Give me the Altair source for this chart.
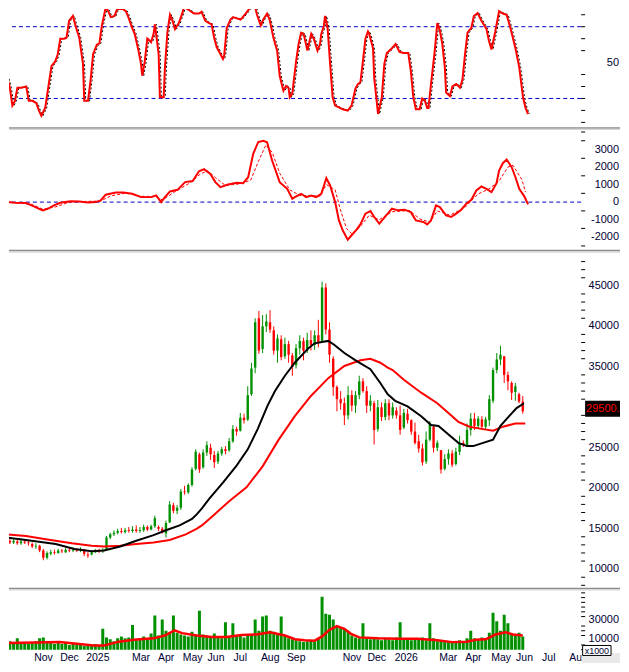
import altair as alt
import pandas as pd

# ---------------- style constants ----------------
FONT = "Liberation Sans"
LABEL_COLOR = "#000033"
GREEN = "#009000"
RED = "#ff0000"
BLUE = "#0000cc"

W = 574
H1, H2, H3, H4 = 118, 119, 335, 61
RIGHT = 613          # right edge of the drawing, relative to the plot origin
X_DOMAIN = [6.32, 460.08]
Y1_DOMAIN = [-3.6, 94.75]
Y2_DOMAIN = [-2690, 4075]
Y3_DOMAIN = [7771, 49027]
Y4_DOMAIN = [-2400, 61800]

# ---------------- x axis (trading-day index) ----------------
month_ticks = [21, 42, 63, 100, 121, 141, 161, 182, 204, 225, 246, 270, 290, 312, 348, 369, 390, 410, 431, 453]
month_labels = ["Nov", "Dec", "2025", "Mar", "Apr", "May", "Jun", "Jul", "Aug", "Sep", "",
                "Nov", "Dec", "2026", "Mar", "Apr", "May", "Jun", "Jul", "Aug"]

# ---------------- price candles (one candle = 3 sessions) ----------------
candle_t = list(range(0, 420, 3))
opens = [13700, 13500, 13300, 13400, 13200, 13400, 13300, 13100, 12800, 12900,
         12300, 11400, 11900, 12100, 12000, 12300, 12100, 12400, 12300, 12400,
         12300, 12400, 11800, 11800, 12100, 12300, 12200, 12500, 13900, 14300,
         14500, 14700, 14600, 14800, 14700, 14900, 14700, 14800, 15200, 14900,
         15300, 15200, 15000, 14400, 15800, 17900, 17200, 17600, 19600, 19500,
         20400, 22400, 24200, 22600, 24400, 25000, 24100, 23300, 24300, 24800,
         24700, 25800, 27300, 27100, 28700, 28500, 31600, 34900, 41000, 37200,
         40000, 40500, 39500, 37000, 38400, 36300, 37800, 36400, 35200, 37300,
         38200, 37000, 38300, 37700, 38900, 38200, 44800, 39600, 36000, 32500,
         31000, 30500, 29000, 31500, 30200, 31500, 33200, 32000, 30200, 30500,
         27300, 30000, 28800, 30500, 29000, 29600, 29000, 27500, 29200, 28400,
         27000, 25800, 24900, 23300, 26000, 27600, 25000, 24700, 22400, 23600,
         24300, 23000, 24500, 25600, 25300, 27200, 28600, 27700, 28500, 27600,
         28400, 30800, 34600, 35900, 36300, 34000, 33000, 31900, 31600, 30700]
highs = [13900, 13700, 13700, 13600, 13700, 13600, 13500, 13300, 13200, 13000,
         12500, 12200, 12400, 12400, 12500, 12500, 12600, 12600, 12700, 12600,
         12700, 12500, 12100, 12300, 12500, 12500, 12600, 14100, 14500, 14800,
         15000, 15100, 15100, 15200, 15300, 15400, 15200, 15500, 15400, 15500,
         16600, 15400, 15200, 16000, 18400, 18200, 17900, 19900, 20300, 20600,
         22600, 24800, 24400, 24800, 25800, 25500, 24600, 24600, 25100, 25200,
         26200, 27800, 27600, 29300, 29200, 32600, 35500, 41000, 41900, 41400,
         41500, 42000, 40000, 39000, 38900, 38600, 38200, 36700, 37800, 38900,
         38600, 39200, 39500, 39500, 40800, 45500, 45300, 40500, 36300, 32700,
         32000, 31200, 32600, 32100, 32000, 33900, 33600, 32600, 31500, 30800,
         30900, 30600, 31000, 31000, 30600, 30000, 30200, 29800, 29800, 28500,
         28100, 26600, 25500, 27000, 28300, 27700, 25900, 24700, 24200, 24800,
         24700, 25000, 26500, 25900, 28000, 29300, 29300, 28900, 28900, 28800,
         31500, 34900, 36700, 37600, 36300, 34400, 33200, 33000, 31800, 31400]
lows = [13300, 13100, 13100, 13000, 13000, 13100, 12900, 12600, 12500, 12100,
        11100, 11200, 11700, 11800, 11900, 12000, 12000, 12100, 12100, 12100,
        12100, 11600, 11400, 11700, 12000, 12000, 12000, 12400, 13700, 14100,
        14300, 14400, 14400, 14500, 14500, 14500, 14500, 14600, 14700, 14800,
        15100, 14700, 14400, 13900, 15700, 16900, 16800, 17300, 19200, 19300,
        20200, 22200, 21900, 22400, 24000, 23500, 22500, 23000, 24000, 24200,
        24500, 25600, 26500, 27000, 28000, 28300, 31400, 34200, 36600, 36700,
        39300, 39200, 36500, 35500, 35800, 36000, 35500, 33900, 34800, 36500,
        35800, 36700, 37000, 37100, 37400, 38000, 39000, 35500, 31400, 29500,
        29700, 27800, 28500, 29500, 29300, 31000, 31800, 29300, 29500, 25400,
        27000, 28300, 28400, 28400, 28600, 28600, 26600, 27300, 28000, 26600,
        25400, 24400, 22800, 23000, 25800, 24400, 24600, 21800, 22200, 22900,
        22600, 22800, 24100, 25100, 25100, 26500, 27200, 27400, 27200, 27200,
        27700, 30500, 34200, 35200, 33000, 32100, 30900, 30800, 30500, 29200]
closes = [13500, 13300, 13500, 13200, 13400, 13300, 13200, 12800, 12900, 12300,
          11400, 12000, 12100, 12000, 12300, 12200, 12400, 12300, 12400, 12300,
          12500, 11900, 11700, 12100, 12300, 12200, 12400, 13900, 14300, 14500,
          14700, 14600, 14800, 14700, 14900, 14700, 14800, 15200, 14900, 15300,
          16300, 15000, 14600, 15700, 18000, 17200, 17600, 19600, 19500, 20400,
          22300, 24500, 22300, 24400, 25300, 24200, 23200, 24300, 24800, 24600,
          25800, 27300, 27000, 28700, 28400, 31500, 34800, 40500, 37000, 40000,
          40600, 39600, 37000, 38500, 36200, 37800, 36500, 35000, 37300, 38200,
          37000, 38300, 37700, 38900, 38000, 44800, 39600, 36500, 32500, 31000,
          30500, 29000, 31500, 30200, 31500, 33200, 32000, 30200, 30800, 27200,
          30000, 28800, 30500, 29000, 30000, 29000, 27200, 29300, 28400, 27000,
          25600, 24900, 23200, 26000, 28000, 25000, 25600, 22300, 23600, 24300,
          22900, 24500, 25600, 25400, 27200, 28600, 27700, 28600, 27600, 28500,
          31000, 34600, 35900, 36500, 34000, 33200, 31800, 32600, 30700, 29500]
volumes = [7000, 9000, 6000, 12000, 8000, 7000, 6000, 8000, 9000, 12000,
           13000, 8000, 7000, 6000, 7000, 6000, 8000, 5000, 7000, 6000,
           5000, 4000, 6000, 5000, 6000, 5000, 22000, 13000, 11000, 9000,
           12000, 14000, 12000, 13000, 26000, 10000, 12000, 14000, 11000, 17000,
           36000, 15000, 32000, 20000, 17000, 36000, 18000, 16000, 15000, 14000,
           19000, 15000, 41000, 16000, 15000, 14000, 17000, 13000, 12000, 29000,
           14000, 28000, 15000, 16000, 13000, 15000, 16000, 32000, 20000, 35000,
           36000, 20000, 19000, 17000, 35000, 15000, 12000, 11000, 10000, 9000,
           8000, 9000, 10000, 9000, 12000, 56000, 38000, 37000, 32000, 24000,
           24000, 22000, 20000, 15000, 13000, 12000, 28000, 13000, 11000, 12000,
           11000, 10000, 12000, 11000, 10000, 13000, 29000, 11000, 12000, 10000,
           12000, 11000, 13000, 10000, 28000, 12000, 9000, 10000, 8000, 9000,
           8000, 9000, 10000, 8000, 12000, 20000, 12000, 11000, 13000, 12000,
           18000, 39000, 30000, 20000, 37000, 28000, 17000, 15000, 18000, 14000]

# ---------------- moving averages on price ----------------
ma_fast_t = [0, 16, 40, 55, 69, 79, 92, 105, 119, 129,
             140, 150, 154, 158, 164, 175, 186, 195, 203, 211,
             217, 225, 233, 244, 249, 256, 260, 265, 273, 283,
             294, 302, 308, 314, 324, 335, 343, 349, 358, 365,
             372, 377, 385, 393, 399, 406, 412, 418]
ma_fast_v = [13900, 13600, 13100, 12500, 12200, 12300, 12800, 13500, 14200, 14800,
             15400, 16200, 16800, 17500, 18700, 20700, 22800, 24800, 27300, 30200,
             32000, 33900, 35500, 37300, 37900, 38100, 38200, 37700, 36700, 35700,
             34700, 33000, 31600, 30800, 30100, 28900, 27800, 27700, 26500, 25600,
             25200, 25200, 25600, 26000, 27700, 28900, 29900, 30500]
ma_slow_t = [0, 16, 32, 53, 69, 79, 92, 105, 119, 132,
             145, 154, 158, 167, 180, 194, 207, 220, 233, 246,
             260, 273, 286, 294, 302, 308, 312, 321, 335, 348,
             357, 365, 374, 385, 393, 401, 411, 419]
ma_slow_v = [14300, 14100, 13700, 13200, 12900, 12800, 12900, 13100, 13300, 13600,
             14300, 15000, 15400, 16600, 18400, 20100, 22700, 26000, 28900, 31400,
             33600, 35100, 35800, 36000, 35500, 34900, 34600, 33400, 31800, 30500,
             29300, 28200, 27600, 27300, 27100, 27600, 28000, 28000]

# ---------------- volume moving average ----------------
vma_t = [0, 24, 43, 59, 71, 79, 91, 103, 119, 128,
         136, 142, 154, 166, 178, 190, 202, 213, 225, 233,
         241, 249, 255, 261, 267, 273, 278, 285, 300, 316,
         332, 348, 360, 372, 379, 387, 395, 403, 409, 417]
vma_v = [7000, 7500, 8000, 6000, 4500, 4500, 8500, 10500, 12000, 15000,
         20500, 17500, 15000, 13500, 13500, 15500, 16000, 18500, 15000, 11000,
         10000, 9500, 14000, 21000, 25000, 22000, 17000, 13000, 12000, 11500,
         11500, 10000, 8000, 8500, 10500, 11000, 16000, 18500, 16000, 15000]

# ---------------- stochastic ----------------
stoch_t = [0, 2, 5, 7, 9, 11, 13, 16, 20, 22,
           25, 28, 30, 32, 35, 37, 40, 43, 45, 47,
           50, 52, 54, 57, 59, 62, 65, 66, 69, 71,
           73, 76, 78, 80, 83, 85, 87, 90, 92, 96,
           99, 101, 104, 106, 109, 111, 112, 114, 116, 119,
           121, 122, 123, 125, 126, 129, 130, 132, 134, 136,
           138, 141, 144, 145, 149, 153, 157, 159, 162, 165,
           167, 169, 171, 173, 176, 177, 179, 182, 184, 187,
           190, 194, 198, 201, 203, 206, 208, 211, 213, 216,
           219, 221, 223, 224, 226, 228, 229, 231, 234, 236,
           238, 240, 243, 246, 248, 251, 253, 254, 256, 257,
           259, 261, 263, 265, 268, 271, 275, 278, 281, 283,
           285, 287, 289, 291, 292, 295, 296, 299, 302, 304,
           306, 310, 313, 316, 319, 323, 325, 327, 329, 332,
           334, 336, 338, 339, 341, 344, 346, 348, 350, 352,
           353, 356, 358, 361, 364, 366, 368, 370, 373, 375,
           378, 381, 385, 387, 389, 392, 395, 398, 401, 404,
           408, 411, 414, 416, 418]
stoch_v = [76, 47, 37, 29, 14, 18, 29, 29, 30, 18,
           18, 16, 10, 5.5, 12, 26, 47, 51, 57, 70,
           70, 71, 85, 89, 81, 71, 49, 18, 18, 35,
           57, 65, 66, 81, 96, 93, 88, 89, 94.5, 95,
           93, 88, 79, 74, 60, 49, 39, 51, 70, 67,
           74, 82, 74, 57, 21, 21, 46, 76, 90, 85,
           78, 83, 92, 96.5, 94, 91, 91, 92.5, 85, 83,
           82, 71, 63, 59, 53, 56, 79, 86, 88, 87,
           86, 91, 96.5, 98.6, 90, 81, 86, 91, 86, 71,
           60, 39, 30.5, 26.5, 30.5, 29, 21, 24, 51, 65.5,
           75, 74, 60, 74, 70, 60, 65.5, 74, 80.6, 89,
           79, 49, 21, 14, 12.5, 11, 9.8, 14, 28, 32,
           33.5, 51, 70, 76, 74, 62, 37, 7, 21, 49,
           58, 62, 65.5, 59, 58, 58, 43, 21, 11, 11,
           20, 18.5, 12, 12, 32, 60, 83, 77, 65.5, 46,
           25, 22, 30, 32, 29, 36, 57, 75, 79, 89,
           91.5, 85, 78, 68, 61, 76, 93, 91, 90, 79,
           62, 46, 21, 12, 7]
stoch_levels = [20, 80]

# ---------------- MACD ----------------
macd_t = [0, 11, 20, 26, 33, 37, 42, 47, 55, 62,
          69, 75, 79, 83, 91, 97, 104, 111, 119, 123,
          127, 130, 134, 140, 146, 152, 157, 161, 166, 170,
          174, 180, 187, 192, 196, 200, 204, 208, 211, 215,
          221, 227, 231, 233, 238, 242, 246, 250, 254, 258,
          261, 265, 268, 271, 275, 278, 282, 285, 289, 293,
          296, 300, 304, 310, 315, 320, 325, 329, 335, 338,
          341, 345, 348, 353, 357, 361, 365, 369, 373, 377,
          381, 385, 389, 393, 395, 398, 401, 405, 408, 411,
          415, 418]
macd_v = [40, -30, -50, -245, -470, -380, -190, -40, 50, 30,
          -20, 0, 95, 420, 550, 550, 480, 285, 285, 380,
          0, 285, 610, 700, 1140, 1200, 1760, 1880, 1610, 1140,
          850, 1000, 1100, 1080, 1420, 2750, 3430, 3500, 3410, 2370,
          1140, 760, 190, 285, 475, 285, 380, 285, 475, 1365,
          950, 0, -1040, -1610, -2140, -1890, -1570, -1270, -660, -510,
          -850, -1230, -890, -375, -470, -430, -570, -1040, -1135, -1270,
          -1040, -190, -285, -760, -850, -660, -430, -90, 135, 665,
          890, 760, 570, 1080, 1800, 2220, 2430, 1990, 1420, 760,
          330, -130]
sig_t = [0, 24, 33, 43, 55, 79, 87, 99, 111, 123,
         128, 138, 150, 158, 164, 170, 178, 190, 198, 204,
         210, 215, 221, 229, 237, 253, 258, 265, 269, 274,
         278, 283, 292, 300, 310, 324, 332, 340, 346, 356,
         368, 378, 387, 395, 402, 406, 413, 416]
sig_v = [30, -120, -400, -280, 20, 60, 350, 520, 330, 320,
         120, 600, 1100, 1600, 1780, 1400, 950, 1050, 1250, 2300,
         3250, 2850, 1650, 700, 380, 350, 1000, 700, -400, -1500,
         -1800, -1550, -750, -1000, -550, -480, -950, -1150, -500, -750,
         -300, 450, 750, 1200, 2000, 2100, 1300, 570]
macd_levels = [0]

# ---------------- axis tick values / labels ----------------
stoch_major = [50]
stoch_minor = [0, 10, 20, 30, 40, 60, 70, 80, 90]
macd_major = [-2000, -1000, 0, 1000, 2000, 3000]
macd_minor = [-2500, -1500, -500, 500, 1500, 2500, 3500, 4000]
price_major = [10000, 15000, 20000, 25000, 30000, 35000, 40000, 45000]
price_labels = [10000, 15000, 20000, 25000, 35000, 40000, 45000]
price_minor = [v for v in range(8000, 49000, 1000) if v % 5000]
vol_major = [10000, 30000]
vol_minor = [0, 5000, 15000, 20000, 25000, 35000, 40000, 45000, 50000, 55000, 60000]

# ---------------- helpers ----------------
one = pd.DataFrame({"k": [0]})


def xenc(axis=None):
    return alt.X("t:Q", scale=alt.Scale(domain=X_DOMAIN, nice=False, zero=False), axis=axis)


def ysc(dom):
    return alt.Scale(domain=dom, nice=False, zero=False)


def right_axis(values):
    return alt.Axis(orient="right", values=values, tickSize=7, tickColor="black", tickWidth=1,
                    domainColor="black", domainWidth=1, labels=False, grid=False, title=None)


def minor(values, dom):
    return alt.Chart(pd.DataFrame({"m": values})).mark_rule(color="black", strokeWidth=1).encode(
        x=alt.value(W), x2=alt.value(W + 4), y=alt.Y("m:Q", scale=ysc(dom), axis=None))


def ylabels(values, dom, dy=0):
    df = pd.DataFrame({"m": values, "txt": [str(v) for v in values]})
    return alt.Chart(df).mark_text(align="right", baseline="middle", font=FONT, fontSize=11,
                                   color=LABEL_COLOR, dy=dy).encode(
        x=alt.value(W + 38), y=alt.Y("m:Q", scale=ysc(dom), axis=None), text="txt:N")


def seps(h):
    a = alt.Chart(one).mark_rule(color="#8c8c8c", strokeWidth=1.5).encode(
        x=alt.value(0), x2=alt.value(RIGHT), y=alt.value(h + 1.2))
    b = alt.Chart(one).mark_rule(color="#d4d4d4", strokeWidth=1.5).encode(
        x=alt.value(0), x2=alt.value(RIGHT), y=alt.value(h + 2.7))
    return a + b


# ---------------- panel 1: stochastic ----------------
st = pd.DataFrame({"t": stoch_t, "v": stoch_v})
p1 = alt.layer(
    alt.Chart(pd.DataFrame({"lvl": stoch_levels})).mark_rule(color=BLUE, strokeDash=[4, 3], strokeWidth=1).encode(
        y=alt.Y("lvl:Q", scale=ysc(Y1_DOMAIN), axis=right_axis(stoch_major))),
    alt.Chart(st).mark_line(color="black", strokeWidth=1, strokeDash=[2, 2], xOffset=1.5, clip=True).encode(
        x=xenc(), y=alt.Y("v:Q", scale=ysc(Y1_DOMAIN), axis=None)),
    alt.Chart(st).mark_line(color=RED, strokeWidth=2, clip=True).encode(
        x=xenc(), y=alt.Y("v:Q", scale=ysc(Y1_DOMAIN), axis=None)),
    minor(stoch_minor, Y1_DOMAIN),
    ylabels(stoch_major, Y1_DOMAIN),
    seps(H1),
).properties(width=W, height=H1)

# ---------------- panel 2: MACD ----------------
md = pd.DataFrame({"t": macd_t, "v": macd_v})
sg = pd.DataFrame({"t": sig_t, "v": sig_v})
p2 = alt.layer(
    alt.Chart(pd.DataFrame({"lvl": macd_levels})).mark_rule(color=BLUE, strokeDash=[4, 3], strokeWidth=1).encode(
        y=alt.Y("lvl:Q", scale=ysc(Y2_DOMAIN), axis=right_axis(macd_major))),
    alt.Chart(sg).mark_line(color=RED, strokeWidth=1, strokeDash=[3, 2], clip=True).encode(
        x=xenc(), y=alt.Y("v:Q", scale=ysc(Y2_DOMAIN), axis=None)),
    alt.Chart(md).mark_line(color=RED, strokeWidth=2, clip=True).encode(
        x=xenc(), y=alt.Y("v:Q", scale=ysc(Y2_DOMAIN), axis=None)),
    minor(macd_minor, Y2_DOMAIN),
    ylabels(macd_major, Y2_DOMAIN),
    seps(H2),
).properties(width=W, height=H2)

# ---------------- panel 3: price ----------------
cd = pd.DataFrame({"t": candle_t, "o": opens, "h": highs, "l": lows, "c": closes})
cd["dir"] = ["up" if c >= o else "down" for o, c in zip(opens, closes)]
ccol = alt.Color("dir:N", scale=alt.Scale(domain=["up", "down"], range=[GREEN, RED]), legend=None)
fast = pd.DataFrame({"t": ma_fast_t, "v": ma_fast_v})
slow = pd.DataFrame({"t": ma_slow_t, "v": ma_slow_v})
tag = pd.DataFrame({"price": [closes[-1]], "label": [f"{closes[-1]:.2f}"]})
TAG_W = RIGHT - (W + 4)
TAG_PATH = "M-1,-{r:.3f}L1,-{r:.3f}L1,{r:.3f}L-1,{r:.3f}Z".format(r=16 / TAG_W)

p3 = alt.layer(
    alt.Chart(cd).mark_rule(strokeWidth=1, clip=True).encode(
        x=xenc(),
        y=alt.Y("l:Q", scale=ysc(Y3_DOMAIN), axis=right_axis(price_major)),
        y2="h:Q", color=ccol),
    alt.Chart(cd).mark_bar(size=2.4, clip=True).encode(
        x=xenc(), y=alt.Y("o:Q", scale=ysc(Y3_DOMAIN), axis=None), y2="c:Q", color=ccol),
    alt.Chart(slow).mark_line(color=RED, strokeWidth=2, clip=True).encode(
        x=xenc(), y=alt.Y("v:Q", scale=ysc(Y3_DOMAIN), axis=None)),
    alt.Chart(fast).mark_line(color="black", strokeWidth=2, clip=True).encode(
        x=xenc(), y=alt.Y("v:Q", scale=ysc(Y3_DOMAIN), axis=None)),
    minor(price_minor, Y3_DOMAIN),
    ylabels(price_labels, Y3_DOMAIN),
    alt.Chart(tag).mark_point(shape=TAG_PATH, size=TAG_W * TAG_W, filled=True, color="black",
                              opacity=1, strokeWidth=0, yOffset=-2.5).encode(
        x=alt.value(W + 4 + TAG_W / 2), y=alt.Y("price:Q", scale=ysc(Y3_DOMAIN), axis=None)),
    alt.Chart(tag).mark_text(align="left", baseline="middle", color=RED, font=FONT, fontSize=11,
                             limit=34, ellipsis="\u200b", yOffset=-2.5).encode(
        x=alt.value(W + 5), y=alt.Y("price:Q", scale=ysc(Y3_DOMAIN), axis=None), text="label:N"),
    seps(H3),
).properties(width=W, height=H3)

# ---------------- panel 4: volume ----------------
x_axis = alt.Axis(orient="bottom", values=month_ticks, tickSize=10, tickColor="black", tickWidth=1,
                  domainColor="black", domainWidth=1, labels=False, grid=False, title=None)

vd = pd.DataFrame({"t": candle_t, "vol": volumes})
vm = pd.DataFrame({"t": vma_t, "v": vma_v})
xl = pd.DataFrame({"t": month_ticks, "lab": month_labels})
p4 = alt.layer(
    alt.Chart(vd).mark_bar(size=3, color=GREEN, clip=True).encode(
        x=xenc(x_axis), y=alt.Y("vol:Q", scale=ysc(Y4_DOMAIN), axis=right_axis(vol_major))),
    alt.Chart(vm).mark_line(color=RED, strokeWidth=2.5, clip=True).encode(
        x=xenc(), y=alt.Y("v:Q", scale=ysc(Y4_DOMAIN), axis=None)),
    minor(vol_minor, Y4_DOMAIN),
    ylabels(vol_major, Y4_DOMAIN, dy=-1.5),
    alt.Chart(xl).mark_text(align="left", baseline="middle", dx=2, font=FONT, fontSize=10.5,
                            color=LABEL_COLOR).encode(
        x=xenc(), y=alt.value(H4 + 5.8), text="lab:N"),
    alt.Chart(one).mark_rect(color="#e9e9e9").encode(
        x=alt.value(W + 0.5), x2=alt.value(RIGHT), y=alt.value(H4 + 1), y2=alt.value(H4 + 11)),
    alt.Chart(one).mark_rect(fill="white", stroke="black", strokeWidth=1).encode(
        x=alt.value(W + 1.5), x2=alt.value(W + 30), y=alt.value(H4 - 6.5), y2=alt.value(H4 + 3.5)),
    alt.Chart(one).mark_text(text="x1000", font=FONT, fontSize=9, color=LABEL_COLOR,
                             align="center", baseline="middle").encode(
        x=alt.value(W + 15.8), y=alt.value(H4 - 1.3)),
).properties(width=W, height=H4)

chart = alt.vconcat(p1, p2, p3, p4, spacing=4, bounds="flush").properties(
    padding=0, background="white").configure_view(strokeWidth=0)

chart.save("out.html", embed_options={"renderer": "svg", "actions": False})
